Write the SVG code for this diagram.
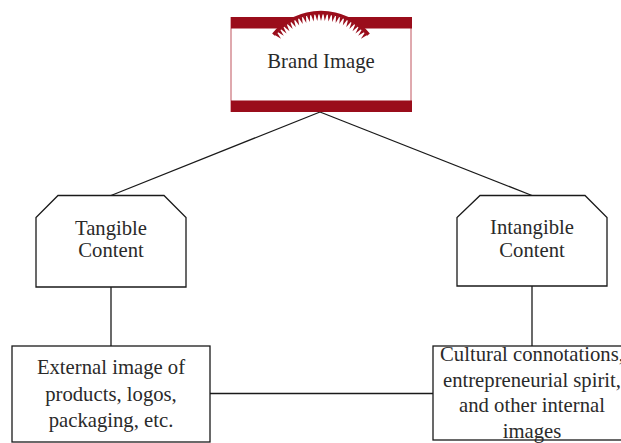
<svg xmlns="http://www.w3.org/2000/svg" width="621" height="443" viewBox="0 0 621 443">
<style>
.ln{fill:none;stroke:#1a1a1a;stroke-width:1.3}
.nd{fill:#fff;stroke:#1a1a1a;stroke-width:1.3}
.tx{font-family:'Liberation Serif','DejaVu Serif',serif;font-size:20.7px;fill:#2a2a2a;text-anchor:middle}
.red{fill:#9a0d1b}
</style>
<defs>
<marker id="tooth" markerUnits="userSpaceOnUse" markerWidth="10" markerHeight="10" refX="0" refY="0" orient="auto" overflow="visible">
<path d="M-1.7,-0.5 L1.7,-0.5 L0,6.5 Z" fill="#9a0d1b"/>
</marker>
</defs>
<rect width="621" height="443" fill="#fff"/>
<g id="connectors">
<path class="ln" d="M320,112 L111,195.5"/>
<path class="ln" d="M320,112 L532,195.5"/>
<path class="ln" d="M111,287 L111,346"/>
<path class="ln" d="M532,286 L532,346"/>
<path class="ln" d="M210,393.5 L433,393.5"/>
</g>
<g id="brand-image">
<rect x="231" y="17.5" width="180" height="94" fill="#fff" stroke="#c0545e" stroke-width="1"/>
<rect class="red" x="231" y="17" width="181" height="11.5"/>
<rect class="red" x="231" y="100.5" width="181" height="11.5"/>
<path d="M273.5,34.6 A62,62 0 0 1 368.5,34.6 Z" fill="#fff"/>
<path d="M273.5,34.6 A62,62 0 0 1 368.5,34.6" fill="none" stroke="#9a0d1b" stroke-width="3.5"/>
<polyline fill="none" stroke="none" marker-start="url(#tooth)" marker-mid="url(#tooth)" marker-end="url(#tooth)" points="276.4,34.2 279.3,31.2 282.4,28.4 285.7,25.9 289.2,23.5 292.8,21.4 296.6,19.6 300.5,18.0 304.5,16.7 308.5,15.7 312.7,15.0 316.8,14.5 321,14.4 325.2,14.5 329.4,15.0 333.5,15.7 337.5,16.7 341.5,18.0 345.4,19.6 349.2,21.4 352.8,23.5 356.3,25.9 359.6,28.4 362.7,31.2 365.6,34.2"/>
<text class="tx" x="321" y="68">Brand Image</text>
</g>
<g id="tangible">
<path class="nd" d="M58,195.5 L164,195.5 L186,217.5 L186,287 L36,287 L36,217.5 Z"/>
<text class="tx" x="111" y="235">Tangible</text>
<text class="tx" x="111" y="257">Content</text>
</g>
<g id="intangible">
<path class="nd" d="M480,195.5 L585,195.5 L607,217.5 L607,286 L457,286 L457,217.5 Z"/>
<text class="tx" x="532" y="234">Intangible</text>
<text class="tx" x="532" y="257">Content</text>
</g>
<g id="external">
<rect class="nd" x="12" y="346" width="198" height="96"/>
<text class="tx" x="111" y="374">External image of</text>
<text class="tx" x="111" y="400.5">products, logos,</text>
<text class="tx" x="111" y="427">packaging, etc.</text>
</g>
<g id="internal">
<rect class="nd" x="433" y="346" width="198" height="94"/>
<text class="tx" x="532" y="361">Cultural connotations,</text>
<text class="tx" x="532" y="386.5">entrepreneurial spirit,</text>
<text class="tx" x="532" y="412">and other internal</text>
<text class="tx" x="532" y="437.5">images</text>
</g>
</svg>
